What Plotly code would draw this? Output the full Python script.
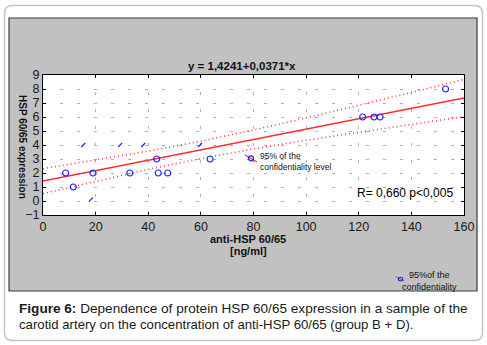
import plotly.graph_objects as go

# ---- data ----
pts_x = [8.6, 11.5, 19.0, 33.0, 43.2, 43.8, 47.4, 63.5, 121.5, 125.8, 128.1, 153.0]
pts_y = [2.0, 1.0, 2.0, 2.0, 3.0, 2.0, 2.0, 3.0, 6.0, 6.0, 6.0, 8.0]
frag_x = [15.3, 18.2, 29.3, 38.1, 59.7]
frag_y = [4.0, 0.1, 4.0, 4.0, 4.0]

intercept = 1.4241
slope = 0.0371
line_x = [0, 160]

band_x = [0, 20, 40, 60, 80, 100, 120, 140, 160]
band_upper = [2.31, 2.91, 3.56, 4.27, 5.07, 5.93, 6.83, 7.75, 8.69]
band_lower = [0.53, 1.42, 2.26, 3.03, 3.72, 4.34, 4.92, 5.48, 6.03]

x_ticks = [0, 20, 40, 60, 80, 100, 120, 140, 160]
y_ticks = [-1, 0, 1, 2, 3, 4, 5, 6, 7, 8, 9]

W, H = 487, 345
L, R, T, B = 43, 464, 75, 215


def px(v):
    return (v - L) / (R - L)


def py(v):
    return (B - v) / (B - T)


FONT = "Liberation Sans, Arial, sans-serif"

fig = go.Figure()

fig.add_trace(go.Scatter(x=band_x, y=band_upper, mode="lines",
                         line=dict(color="#ff3030", width=1.5, dash="1px,3px"),
                         hoverinfo="skip"))
fig.add_trace(go.Scatter(x=band_x, y=band_lower, mode="lines",
                         line=dict(color="#ff3030", width=1.5, dash="1px,3px"),
                         hoverinfo="skip"))
fig.add_trace(go.Scatter(x=line_x, y=[intercept + slope * v for v in line_x],
                         mode="lines", line=dict(color="#ff2a2a", width=1.6)))
fig.add_trace(go.Scatter(x=pts_x, y=pts_y, mode="markers",
                         marker=dict(symbol="circle-open", size=6,
                                     color="#2222ff", line=dict(width=1.2))))
fig.add_trace(go.Scatter(x=frag_x, y=frag_y, mode="markers",
                         marker=dict(symbol="line-ne-open", size=4,
                                     color="#2222ff", line=dict(width=1.2))))

shapes = []
# outer rounded box
x0, x1, y0, y1, r = 4.5, 482.5, 5.5, 340.5, 8
path = (f"M {px(x0+r)},{py(y0)} L {px(x1-r)},{py(y0)} Q {px(x1)},{py(y0)} {px(x1)},{py(y0+r)} "
        f"L {px(x1)},{py(y1-r)} Q {px(x1)},{py(y1)} {px(x1-r)},{py(y1)} "
        f"L {px(x0+r)},{py(y1)} Q {px(x0)},{py(y1)} {px(x0)},{py(y1-r)} "
        f"L {px(x0)},{py(y0+r)} Q {px(x0)},{py(y0)} {px(x0+r)},{py(y0)} Z")
shapes.append(dict(type="path", xref="paper", yref="paper", path=path,
                   line=dict(color="#c4c4c4", width=1.5), fillcolor="white", layer="below"))
# gray panel
shapes.append(dict(type="rect", xref="paper", yref="paper",
                   x0=px(9), x1=px(477), y0=py(291), y1=py(18),
                   fillcolor="#c0c1c0", line=dict(color="#3a3a3a", width=1.2), layer="below"))
# white plot area
shapes.append(dict(type="rect", xref="paper", yref="paper",
                   x0=0, x1=1, y0=0, y1=1, fillcolor="white",
                   line=dict(width=0), layer="below"))

# inner legend symbol
shapes.append(dict(type="line", xref="paper", yref="paper",
                   x0=px(245), y0=py(155), x1=px(257), y1=py(162),
                   line=dict(color="#ff3030", width=1.2)))
shapes.append(dict(type="circle", xref="paper", yref="paper",
                   xsizemode="pixel", ysizemode="pixel",
                   xanchor=px(251), yanchor=py(158.3), x0=-2.5, x1=2.5, y0=-2.5, y1=2.5,
                   line=dict(color="#2222ff", width=1.3)))
# bottom legend symbol
shapes.append(dict(type="line", xref="paper", yref="paper",
                   x0=px(395.5), y0=py(276.5), x1=px(404), y1=py(281),
                   line=dict(color="#ff3030", width=1)))
shapes.append(dict(type="circle", xref="paper", yref="paper",
                   xsizemode="pixel", ysizemode="pixel",
                   xanchor=px(400.5), yanchor=py(279), x0=-2.2, x1=2.2, y0=-1.8, y1=1.8,
                   line=dict(color="#2222ff", width=1.1)))

annotations = []


def ann(text, x, y, size, xanchor="center", align="center", angle=0, color="#111"):
    annotations.append(dict(text=text, x=px(x), y=py(y), xref="paper", yref="paper",
                            showarrow=False, xanchor=xanchor, yanchor="middle",
                            align=align, textangle=angle,
                            font=dict(family=FONT, size=size, color=color)))


ann("<b>y = 1,4241+0,0371*x</b>", 242, 66, 11.5)
ann("<b>HSP 60/65 expression</b>", 23, 147, 10, angle=90)
ann("<b>anti-HSP 60/65</b>", 248, 239, 11)
ann("<b>[ng/ml]</b>", 248, 251, 11)
ann("R= 0,660 p&lt;0,005", 404.5, 193, 12, color="#000")
ann("95% of the<br>confidentiality level", 258, 161.5, 8.5, xanchor="left", align="left")
ann("95%of the<br>confidentiality", 429, 281, 9)
ann("<b>Figure 6:</b> Dependence of protein HSP 60/65 expression in a sample of the",
    17, 308, 13.6, xanchor="left", align="left", color="#1a1a1a")
ann("carotid artery on the concentration of anti-HSP 60/65 (group B + D).",
    17, 324, 13.2, xanchor="left", align="left", color="#1a1a1a")

axis_common = dict(showgrid=True, gridcolor="#b0b0b0", griddash="3px,14px", gridwidth=1,
                   zeroline=False, showline=True, linecolor="#000", linewidth=1,
                   mirror="allticks", ticks="inside", ticklen=3, tickcolor="#000",
                   tickfont=dict(family=FONT, size=12.5, color="#1a1a1a"))

fig.update_layout(
    width=W, height=H, margin=dict(l=L, r=W - R, t=T, b=H - B),
    paper_bgcolor="white", plot_bgcolor="rgba(0,0,0,0)",
    showlegend=False,
    xaxis=dict(range=[0, 160], tickvals=x_ticks, **axis_common),
    yaxis=dict(range=[-1, 9], tickvals=y_ticks, **axis_common),
    shapes=shapes, annotations=annotations,
)

fig.write_html("out.html")
